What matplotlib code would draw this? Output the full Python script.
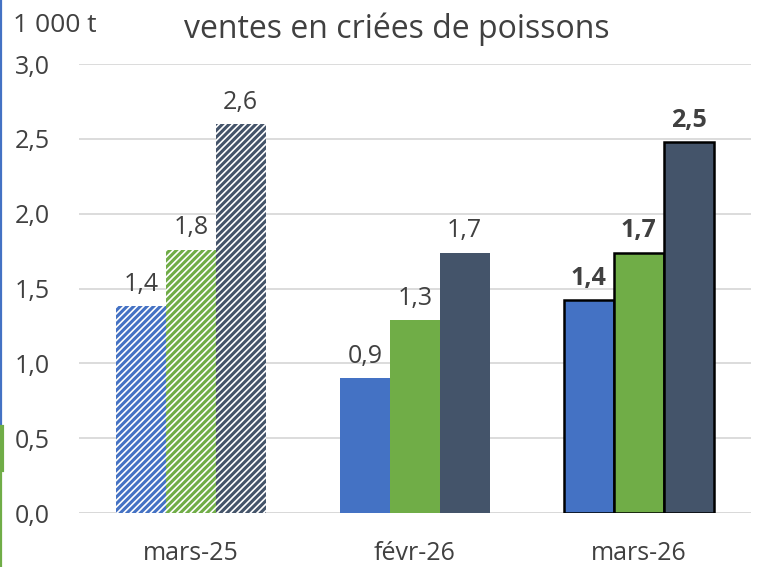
import matplotlib
matplotlib.use("Agg")
import matplotlib.pyplot as plt
from matplotlib.lines import Line2D
import numpy as np

plt.rcParams['font.family'] = ['Open Sans', 'DejaVu Sans']
plt.rcParams['hatch.linewidth'] = 2.2

categories = ["mars-25", "févr-26", "mars-26"]
series_names = ["Série 1", "Série 2", "Série 3"]
values = [
    [1.38, 0.90, 1.42],   # bleu
    [1.76, 1.29, 1.74],   # vert
    [2.60, 1.74, 2.48],   # bleu-gris
]
labels = [
    ["1,4", "0,9", "1,4"],
    ["1,8", "1,3", "1,7"],
    ["2,6", "1,7", "2,5"],
]
colors = ["#4472C4", "#70AD47", "#44546A"]
yticks = [0.0, 0.5, 1.0, 1.5, 2.0, 2.5, 3.0]
ytick_labels = ["0,0", "0,5", "1,0", "1,5", "2,0", "2,5", "3,0"]

text_color = "#404040"

fig = plt.figure(figsize=(7.66, 5.67), dpi=100)
ax = fig.add_axes([0.103, 0.0952, 0.877, 0.7919])

x = np.arange(len(categories))
w = 0.223
for s in range(3):
    for g in range(3):
        xpos = x[g] + (s - 1) * w
        v = values[s][g]
        if g == 0:
            ax.bar(xpos, v, width=w, facecolor="white", edgecolor=colors[s],
                   hatch="/////", linewidth=0, zorder=3)
            weight = "normal"
        elif g == 1:
            ax.bar(xpos, v, width=w, color=colors[s], linewidth=0, zorder=3)
            weight = "normal"
        else:
            ax.bar(xpos, v, width=w, color=colors[s], edgecolor="black",
                   linewidth=1.8, zorder=3)
            weight = "bold"
        ax.annotate(labels[s][g], (xpos, v), xytext=(0, 11), textcoords="offset points",
                    ha="center", va="baseline", fontsize=18, color=text_color,
                    fontweight=weight, zorder=4)

ax.set_xlim(-0.5, 2.5)
ax.set_ylim(0, 3.0)
ax.set_yticks(yticks)
ax.set_yticklabels(ytick_labels)
ax.set_xticks(x)
ax.set_xticklabels(categories)
ax.tick_params(axis="both", length=0, labelsize=18, colors=text_color)
ax.tick_params(axis="y", pad=21)
ax.tick_params(axis="x", pad=20)
for sp in ax.spines.values():
    sp.set_visible(False)
ax.grid(axis="y", color="#d9d9d9", linewidth=1.3, zorder=0)
ax.set_axisbelow(True)
ax.axhline(0, color="#d9d9d9", linewidth=1.3, zorder=2)

fig.text(0.518, 0.948, "ventes en criées de poissons", ha="center", va="center",
         fontsize=23, color=text_color)
fig.text(0.017, 0.955, "1 000 t", ha="left", va="center", fontsize=19, color=text_color)

# left edge marks
fig.add_artist(Line2D([0.0015, 0.0015], [1.0, 1 - 427 / 567], color="#4472C4",
                      linewidth=1.6, transform=fig.transFigure))
fig.add_artist(Line2D([0.0015, 0.0015], [1 - 427 / 567, 0.0], color="#70AD47",
                      linewidth=1.6, transform=fig.transFigure))
fig.add_artist(Line2D([0.002, 0.002], [1 - 427 / 567, 1 - 470 / 567], color="#70AD47",
                      linewidth=3, transform=fig.transFigure))

fig.savefig("out.png", dpi=100)
